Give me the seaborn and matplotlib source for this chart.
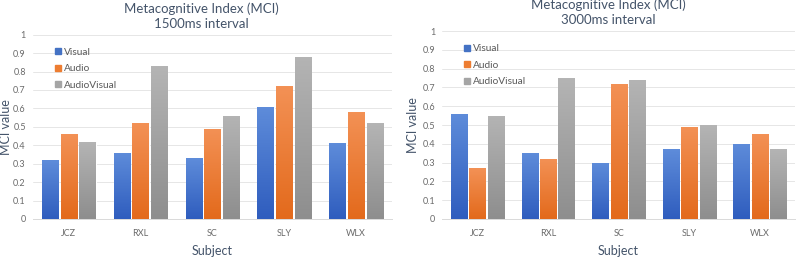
import numpy as np
import pandas as pd
import seaborn as sns
import matplotlib.pyplot as plt
from matplotlib.colors import to_rgb
from matplotlib.lines import Line2D

# ---- Data ----
subjects = ["JCZ", "RXL", "SC", "SLY", "WLX"]
conditions = ["Visual", "Audio", "AudioVisual"]

visual_1500 = [0.32, 0.36, 0.33, 0.61, 0.41]
audio_1500 = [0.46, 0.52, 0.49, 0.72, 0.58]
av_1500 = [0.42, 0.83, 0.56, 0.88, 0.52]

visual_3000 = [0.56, 0.35, 0.30, 0.37, 0.40]
audio_3000 = [0.27, 0.32, 0.72, 0.49, 0.45]
av_3000 = [0.55, 0.75, 0.74, 0.50, 0.37]

panels = [
    ("1500ms interval", [visual_1500, audio_1500, av_1500]),
    ("3000ms interval", [visual_3000, audio_3000, av_3000]),
]

# top / bottom colours of the bar gradients
top_cols = {"Visual": "#5E8CDA", "Audio": "#F39155", "AudioVisual": "#B4B4B4"}
bot_cols = {"Visual": "#2F5DBE", "Audio": "#E36A1C", "AudioVisual": "#8E8E8E"}
base_cols = {"Visual": "#4472C4", "Audio": "#ED7D31", "AudioVisual": "#A5A5A5"}

TITLE_COL = "#44546A"
TICK_COL = "#6B6B6B"

sns.set_theme(style="white")
plt.rcParams["font.family"] = ["Lato", "DejaVu Sans"]

fig = plt.figure(figsize=(8, 2.57), dpi=100)
axes = [
    fig.add_axes([0.041, 0.148, 0.449, 0.717]),
    fig.add_axes([0.5525, 0.148, 0.4415, 0.731]),
]
ylabel_x = [-0.058, -0.066]


def gradient_bars(ax, patches, cond):
    c_top = np.array(to_rgb(top_cols[cond]))
    c_bot = np.array(to_rgb(bot_cols[cond]))
    t = np.linspace(0, 1, 64)[:, None]
    img = (c_bot * (1 - t) + c_top * t)[:, None, :]
    for p in patches:
        x0, y0 = p.get_x(), p.get_y()
        w, h = p.get_width(), p.get_height()
        im = ax.imshow(img, extent=[x0, x0 + w, y0, y0 + h], origin="lower",
                       aspect="auto", zorder=p.get_zorder() + 0.1)
        im.set_clip_path(p)


for ax, (subtitle, series), ylx in zip(axes, panels, ylabel_x):
    rows = []
    for cond, vals in zip(conditions, series):
        for s, v in zip(subjects, vals):
            rows.append({"Subject": s, "Condition": cond, "MCI": v})
    df = pd.DataFrame(rows)

    sns.barplot(data=df, x="Subject", y="MCI", hue="Condition",
                hue_order=conditions, palette=base_cols, width=0.78,
                gap=0.12, ax=ax, edgecolor="white", linewidth=0.8,
                legend=False)

    n = len(subjects)
    for i, cond in enumerate(conditions):
        gradient_bars(ax, ax.patches[i * n:(i + 1) * n], cond)

    ax.set_xlim(-0.5, n - 0.5)
    ax.set_ylim(0, 1.0)
    ax.set_yticks(np.arange(0, 1.01, 0.1))
    ax.set_yticklabels(["0"] + [f"{v:.1f}" for v in np.arange(0.1, 0.95, 0.1)] + ["1"])
    ax.yaxis.grid(True, color="#E6E6E6", linewidth=0.7)
    ax.set_axisbelow(True)
    for side in ["top", "right", "left"]:
        ax.spines[side].set_visible(False)
    ax.spines["bottom"].set_color("#D9D9D9")
    ax.spines["bottom"].set_linewidth(0.7)
    ax.tick_params(axis="both", length=0, labelsize=6.5, colors=TICK_COL, pad=5)
    ax.tick_params(axis="x", pad=7)

    ax.set_title("Metacognitive Index (MCI)\n" + subtitle, fontsize=9.5,
                 color=TITLE_COL, pad=5, linespacing=1.3, x=0.47)
    ax.set_xlabel("Subject", fontsize=9, color=TITLE_COL)
    ax.xaxis.set_label_coords(0.5, -0.14)
    ax.set_ylabel("MCI value", fontsize=9, color=TITLE_COL)
    ax.yaxis.set_label_coords(ylx, 0.5)

    handles = [Line2D([0], [0], marker="s", linestyle="none", markersize=5,
                      color=base_cols[c]) for c in conditions]
    ax.legend(handles, conditions, loc="upper left", bbox_to_anchor=(0.03, 0.98),
              frameon=False, fontsize=7.3, handletextpad=0.1, labelspacing=0.75,
              labelcolor="#595959", handlelength=1.0)

fig.savefig("out.png", dpi=100)
plt.close(fig)
